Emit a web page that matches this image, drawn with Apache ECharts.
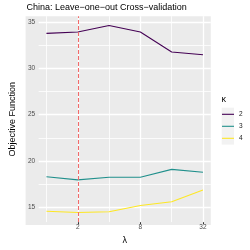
<!DOCTYPE html>
<html><head><meta charset="utf-8">
<script src="https://cdn.jsdelivr.net/npm/echarts@6/dist/echarts.min.js"></script>
<style>html,body{margin:0;padding:0;background:#fff}#c{width:250px;height:250px}</style>
</head><body><div id="c"></div>
<script>
const lambdas = [1, 2, 4, 8, 16, 32];
const kappa2 = [33.75, 33.9, 34.6, 33.9, 31.75, 31.45];
const kappa3 = [18.3, 17.97, 18.26, 18.26, 19.1, 18.8];
const kappa4 = [14.58, 14.45, 14.54, 15.2, 15.62, 16.88];
const seriesNames = ['2', '3', '4'];
const xTickLabels = [2, 8, 32];
const xMinorGrid = [1, 4, 16];
const yTickLabels = [15, 20, 25, 30, 35];
const yMinorGrid = [17.5, 22.5, 27.5, 32.5];
const selectedLambda = 2;

const colors = ['#440154', '#21908C', '#FDE725'];
const L2 = v => Math.log2(v);
const mk = arr => lambdas.map((l, i) => [L2(l), arr[i]]);
const FONT = '"Liberation Sans", Arial, sans-serif';
const xMin = L2(lambdas[0]) - 0.25, xMax = L2(lambdas[lambdas.length - 1]) + 0.25;
const yMin = 13.42, yMax = 35.6;
const G = {left: 25.6, right: 39.2, top: 16.2, bottom: 25};

const chart = echarts.init(document.getElementById('c'), null, {renderer: 'canvas', width: 250, height: 250});

const gridLines = [];
xMinorGrid.forEach(v => gridLines.push({xAxis: L2(v), lineStyle: {color: '#FFFFFF', width: 0.8, type: 'solid', opacity: 1}}));
yMinorGrid.forEach(v => gridLines.push({yAxis: v, lineStyle: {color: '#FFFFFF', width: 0.8, type: 'solid', opacity: 1}}));
xTickLabels.forEach(v => gridLines.push({xAxis: L2(v), lineStyle: {color: '#FFFFFF', width: 1.3, type: 'solid', opacity: 1}}));
yTickLabels.forEach(v => gridLines.push({yAxis: v, lineStyle: {color: '#FFFFFF', width: 1.3, type: 'solid', opacity: 1}}));

const dataSeries = [kappa2, kappa3, kappa4].map((arr, i) => ({
  type: 'line', name: seriesNames[i], data: mk(arr), symbol: 'none', silent: true, z: 7,
  lineStyle: {color: colors[i], width: 1.05}, itemStyle: {color: colors[i]}
}));

const option = {
  animation: false,
  textStyle: {fontFamily: FONT},
  title: [
    {text: 'China: Leave\u2212one\u2212out Cross\u2212validation', left: 26.5, top: 3, padding: 0,
     textStyle: {fontSize: 9, fontWeight: 'normal', color: '#000', fontFamily: FONT}},
    {text: '\u03BA', left: 221.5, top: 95, padding: 0,
     textStyle: {fontSize: 9, fontWeight: 'normal', color: '#000', fontFamily: FONT}}
  ],
  grid: {left: G.left, right: G.right, top: G.top, bottom: G.bottom, show: false},
  xAxis: {
    type: 'value', min: xMin, max: xMax,
    name: '\u03BB', nameLocation: 'middle', nameGap: 10,
    nameTextStyle: {fontSize: 9, color: '#000', fontFamily: FONT},
    axisLine: {show: false},
    axisTick: {show: true, length: 2, customValues: xTickLabels.map(L2), lineStyle: {color: '#333', width: 1}},
    axisLabel: {show: true, customValues: xTickLabels.map(L2), margin: 2, fontSize: 6.5, color: '#4D4D4D', fontFamily: FONT,
      formatter: v => String(Math.round(Math.pow(2, v)))},
    splitLine: {show: false}
  },
  yAxis: {
    type: 'value', min: yMin, max: yMax,
    name: 'Objective Function', nameLocation: 'middle', nameGap: 16.5,
    nameTextStyle: {fontSize: 9, color: '#000', fontFamily: FONT},
    axisLine: {show: false},
    axisTick: {show: true, length: 2, customValues: yTickLabels, lineStyle: {color: '#333', width: 1}},
    axisLabel: {show: true, customValues: yTickLabels, margin: 3.5, fontSize: 6.5, color: '#4D4D4D', fontFamily: FONT},
    splitLine: {show: false}
  },
  legend: {
    orient: 'vertical', left: 222, top: 108.3, itemWidth: 12, itemHeight: 1.1, itemGap: 0, icon: 'rect', padding: 0,
    data: seriesNames, selectedMode: false,
    textStyle: {fontSize: 6.5, color: '#1A1A1A', lineHeight: 12, fontFamily: FONT}
  },
  graphic: [
    {type: 'rect', z: -100, silent: true,
     shape: {x: G.left, y: G.top, width: 250 - G.left - G.right, height: 250 - G.top - G.bottom},
     style: {fill: '#EBEBEB'}},
    {type: 'rect', z: -100, silent: true, shape: {x: 221.7, y: 107.7, width: 12.3, height: 36.9}, style: {fill: '#F2F2F2'}}
  ],
  series: [
    {type: 'line', name: 'gridhelper', data: mk(kappa2), symbol: 'none', silent: true, z: 6,
     lineStyle: {opacity: 0, width: 0}, itemStyle: {opacity: 0},
     markLine: {silent: true, symbol: ['none', 'none'], z: 6, animation: false, label: {show: false}, emphasis: {disabled: true}, data: gridLines}},
    ...dataSeries,
    {type: 'line', name: 'vlinehelper', data: mk(kappa2), symbol: 'none', silent: true, z: 8,
     lineStyle: {opacity: 0, width: 0}, itemStyle: {opacity: 0},
     markLine: {silent: true, symbol: ['none', 'none'], z: 8, animation: false, label: {show: false}, emphasis: {disabled: true},
       data: [{xAxis: L2(selectedLambda), lineStyle: {color: '#F26B6B', width: 1.05, type: [4, 2]}}]}}
  ]
};
chart.setOption(option);
</script></body></html>
